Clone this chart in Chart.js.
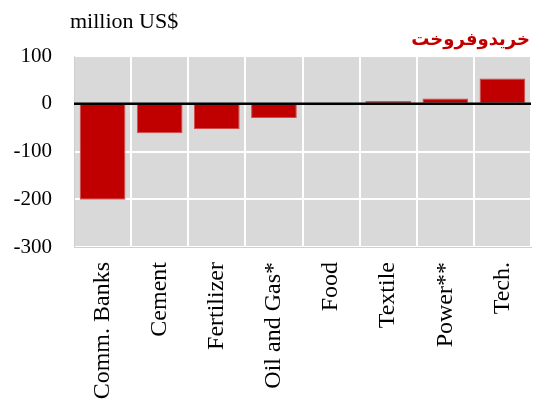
<!DOCTYPE html>
<html>
<head>
<meta charset="utf-8">
<script src="https://cdn.jsdelivr.net/npm/chart.js@4"></script>
<style>
  html, body { margin: 0; padding: 0; background: #fff; }
  #wrap { width: 541px; height: 409px; }
</style>
</head>
<body>
<div id="wrap"><canvas id="chart"></canvas></div>
<script>
const sectors = ["Comm. Banks", "Cement", "Fertilizer", "Oil and Gas*", "Food", "Textile", "Power**", "Tech."];
const netFlow = [-201, -62, -53, -30, -3, 6, 11, 53];
const yTicks = [-300, -200, -100, 0, 100];

const serif = "'Liberation Serif', 'DejaVu Serif', serif";

const chartBackground = {
  id: "chartBackground",
  beforeDraw(chart) {
    const { ctx, chartArea: a } = chart;
    ctx.save();
    ctx.fillStyle = "#d9d9d9";
    ctx.fillRect(a.left, a.top, a.right - a.left, a.bottom - a.top);
    ctx.restore();
  }
};

const zeroLine = {
  id: "zeroLine",
  afterDatasetsDraw(chart) {
    const { ctx, chartArea: a } = chart;
    const y = chart.scales.y.getPixelForValue(0);
    ctx.save();
    ctx.strokeStyle = "#000";
    ctx.lineWidth = 2.5;
    ctx.beginPath();
    ctx.moveTo(a.left, y);
    ctx.lineTo(a.right, y);
    ctx.stroke();
    ctx.restore();
  }
};

const labels = {
  id: "labels",
  afterDraw(chart) {
    const { ctx } = chart;
    ctx.save();
    ctx.fillStyle = "#000";
    ctx.font = "22px " + serif;
    ctx.textBaseline = "alphabetic";
    ctx.textAlign = "left";
    ctx.fillText("million US$", 70, 28);
    ctx.fillStyle = "#c00000";
    ctx.font = "bold 18px 'DejaVu Sans', sans-serif";
    ctx.textAlign = "right";
    ctx.fillText("خریدوفروخت", 530, 45);
    ctx.restore();
  }
};

new Chart(document.getElementById("chart"), {
  type: "bar",
  data: {
    labels: sectors,
    datasets: [{
      data: netFlow,
      backgroundColor: "#c00000",
      borderColor: "#d24a4a",
      borderWidth: 1,
      barPercentage: 0.8,
      categoryPercentage: 1
    }]
  },
  options: {
    responsive: true,
    maintainAspectRatio: false,
    animation: false,
    layout: { padding: { top: 56, right: 10, left: 0, bottom: 0 } },
    plugins: { legend: { display: false }, tooltip: { enabled: false } },
    scales: {
      x: {
        afterFit(scale) {
          scale.height = 162;
          scale.paddingLeft = 0;
          scale.paddingRight = 0;
        },
        grid: { color: "#ffffff", lineWidth: 2, drawTicks: false },
        border: { color: "#cfcfcf", width: 1 },
        ticks: {
          color: "#000",
          font: { family: serif, size: 24 },
          minRotation: 90, maxRotation: 90,
          padding: 15
        }
      },
      y: {
        min: -300, max: 100,
        afterBuildTicks(scale) { scale.ticks = yTicks.map(v => ({ value: v })); },
        afterFit(scale) { scale.width = 74; },
        grid: { color: "#ffffff", lineWidth: 2, drawTicks: false },
        border: { color: "#cfcfcf", width: 1 },
        ticks: {
          color: "#000",
          font: { family: serif, size: 21 },
          padding: 22
        }
      }
    }
  },
  plugins: [chartBackground, zeroLine, labels]
});
</script>
</body>
</html>
